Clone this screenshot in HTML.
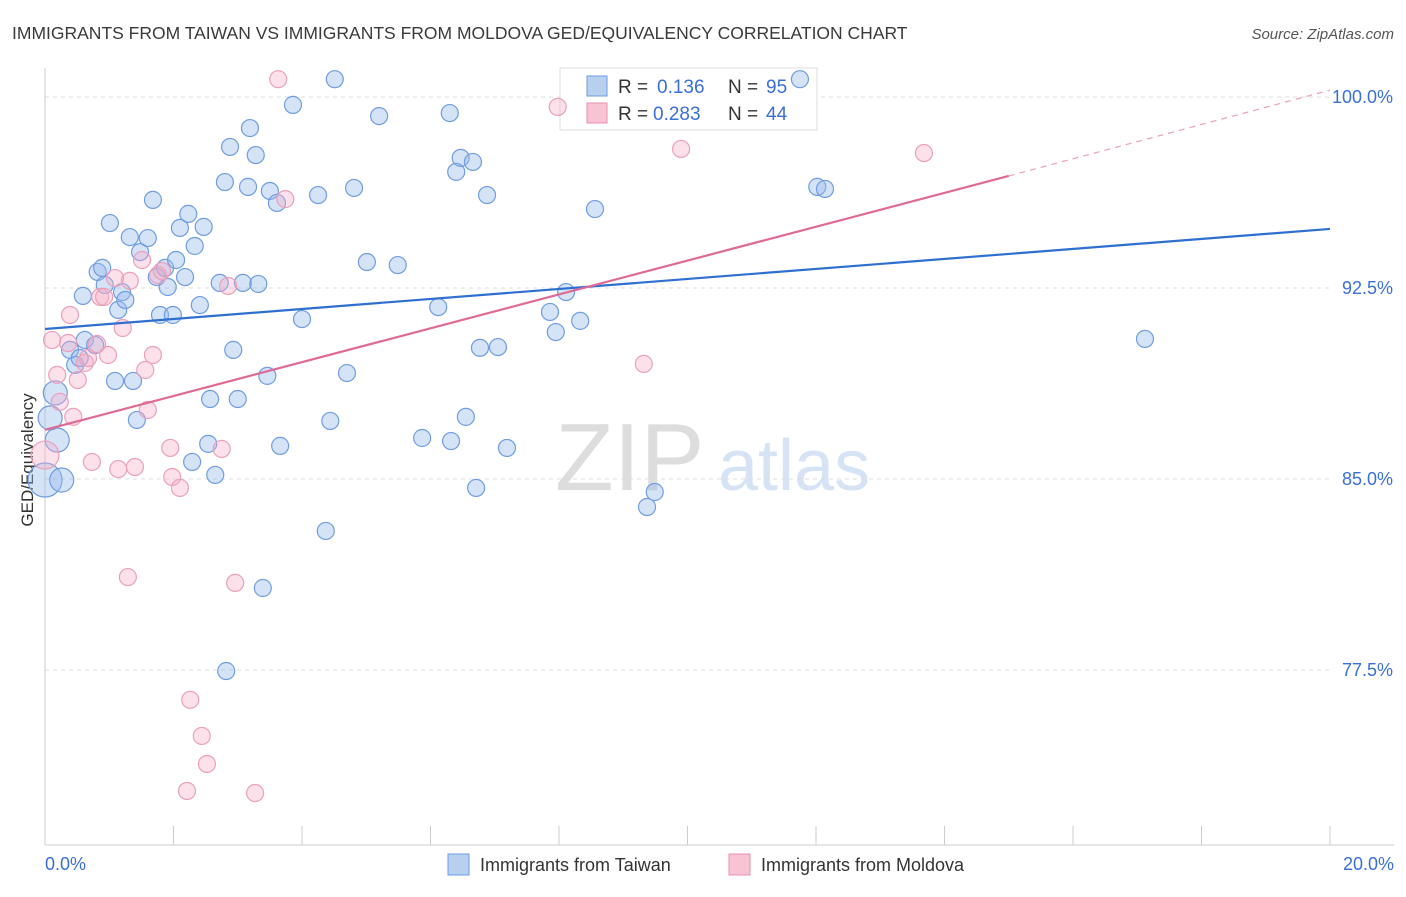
<!DOCTYPE html>
<html><head><meta charset="utf-8"><style>
body{margin:0;background:#fff;font-family:"Liberation Sans",sans-serif;}
svg text{font-family:"Liberation Sans",sans-serif;}
</style></head><body>
<svg id="c" width="1406" height="892">
<text x="12" y="39" font-size="17.5" fill="#3a3a3a">IMMIGRANTS FROM TAIWAN VS IMMIGRANTS FROM MOLDOVA GED/EQUIVALENCY CORRELATION CHART</text>
<text x="1394" y="39" font-size="15" fill="#555" font-style="italic" text-anchor="end">Source: ZipAtlas.com</text>
<text x="555" y="490" font-size="96" fill="#ddd" font-family="Liberation Serif">ZIP</text>
<text x="718" y="490" font-size="72" fill="#d5e3f5">atlas</text>
<text x="33" y="460" font-size="17" fill="#333" text-anchor="middle" transform="rotate(-90 33 460)">GED/Equivalency</text>
<g id="grid"></g>
<g>
<rect x="560" y="68" width="257" height="62" fill="#fff" stroke="#ddd"/>
<rect x="587" y="76" width="20" height="20" fill="#b8d0f0" stroke="#6a9be0"/>
<rect x="587" y="103" width="20" height="20" fill="#f8c4d4" stroke="#e890ac"/>
<text x="618" y="93" font-size="19" fill="#333">R =</text><text x="657" y="93" font-size="19" fill="#3a6fd8">0.136</text>
<text x="728" y="93" font-size="19" fill="#333">N =</text><text x="766" y="93" font-size="19" fill="#3a6fd8">95</text>
<text x="618" y="120" font-size="19" fill="#333">R =</text><text x="653" y="120" font-size="19" fill="#3a6fd8">0.283</text>
<text x="728" y="120" font-size="19" fill="#333">N =</text><text x="766" y="120" font-size="19" fill="#3a6fd8">44</text>
</g>
<g id="pts"></g><g id="lines"></g>
<g>
<rect x="448" y="854" width="21" height="21" fill="#b8d0f0" stroke="#6a9be0"/>
<text x="480" y="871" font-size="18" fill="#333">Immigrants from Taiwan</text>
<rect x="729" y="854" width="21" height="21" fill="#f8c4d4" stroke="#e890ac"/>
<text x="761" y="871" font-size="18" fill="#333">Immigrants from Moldova</text>
</g>
</svg>
<script>
const yTicks=[100,92.5,85,77.5];
const yTickLabels=["100.0%","92.5%","85.0%","77.5%"];
const xTickLabels=["0.0%","20.0%"];
const taiwanX=[0,0.26,0.19,0.16,0.08,0.39,0.47,0.54,0.62,0.78,0.59,0.82,0.89,0.93,1.01,1.09,1.14,1.20,1.25,1.32,1.37,1.43,1.48,1.60,1.68,1.74,1.79,1.87,1.91,1.99,2.04,2.10,2.18,2.23,2.33,2.41,2.47,2.29,2.54,2.57,2.65,2.72,2.80,2.88,2.93,3.00,3.08,3.16,3.19,3.28,3.32,3.39,3.46,3.50,3.61,3.66,3.86,4.00,4.25,4.37,4.44,4.51,4.70,4.81,5.01,5.20,5.49,5.87,6.12,6.30,6.32,6.40,6.47,6.55,6.66,6.71,6.77,6.88,7.05,7.19,7.86,7.95,8.11,8.33,8.56,9.37,9.49,11.75,12.02,12.14,17.12,2.82];
const taiwanY=[84.96,84.96,86.53,88.38,87.40,90.07,89.48,89.75,90.46,90.26,92.19,93.13,93.29,92.62,95.05,88.85,91.64,92.34,92.03,94.50,88.85,87.32,93.91,94.46,95.96,92.93,91.44,93.29,92.54,91.44,93.60,94.86,92.93,95.41,94.15,91.83,94.90,85.67,86.38,88.14,85.16,92.70,96.66,98.04,90.07,88.14,92.70,96.47,98.78,97.72,92.66,80.72,89.05,96.31,95.84,86.30,99.69,91.28,96.15,82.96,87.28,100.7,89.16,96.43,93.52,99.25,93.40,86.61,91.75,99.37,86.49,97.06,97.61,87.44,97.45,84.65,90.15,96.15,90.18,86.22,91.56,90.77,92.34,91.21,95.60,83.90,84.49,100.7,96.47,96.39,90.50,77.46];
const moldovaX=[0,0.11,0.19,0.23,0.39,0.36,0.44,0.51,0.62,0.67,0.73,0.81,0.86,0.92,0.98,1.09,1.14,1.21,1.29,1.32,1.40,1.51,1.56,1.60,1.68,1.76,1.82,1.95,1.98,2.10,2.26,2.21,2.44,2.52,2.75,2.85,2.96,3.27,3.63,3.74,7.98,9.90,9.32,13.68];
const moldovaY=[85.94,90.46,89.09,88.03,91.44,90.34,87.44,88.89,89.56,89.75,85.67,90.30,92.15,92.15,89.87,92.89,85.39,90.93,81.15,92.78,85.47,93.60,89.28,87.71,89.87,93.01,93.17,86.22,85.08,84.65,76.33,72.75,74.91,73.81,86.18,92.58,80.92,72.67,100.7,95.99,99.61,97.96,89.52,97.80];
const taiwanTrend=[[0,90.89],[20,94.82]];
const moldovaTrend=[[0,86.93],[15,96.9],[20,100.27]];
const NS="http://www.w3.org/2000/svg";
const X=v=>45+v/20*1285, Y=v=>97+(100-v)/7.5*191;
function mk(t,a,p){const e=document.createElementNS(NS,t);for(const k in a)e.setAttribute(k,a[k]);p.appendChild(e);return e;}
const g=document.getElementById('grid');
yTicks.forEach((t,i)=>{const l=mk('line',{x1:45,x2:1330,y1:Y(t),y2:Y(t),stroke:'#ddd','stroke-dasharray':'4,4'},g);


const tx=mk('text',{x:1393,y:Y(t)+6,'font-size':18,fill:'#3a6fd8','text-anchor':'end'},g);tx.textContent=yTickLabels[i];

});
mk('line',{x1:45,x2:45,y1:68,y2:845,stroke:'#ccc'},g);
mk('line',{x1:45,x2:1394,y1:845,y2:845,stroke:'#ccc'},g);
for(let i=0;i<=10;i++){mk('line',{x1:X(i*2),x2:X(i*2),y1:826,y2:845,stroke:'#ccc'},g);}
xTickLabels.forEach((s,i)=>{const tx=mk('text',{x:i?1394:45,y:870,'font-size':18,fill:'#3a6fd8','text-anchor':i?'end':'start'},g);tx.textContent=s;

});
const p=document.getElementById('pts');
taiwanX.forEach((x,i)=>{const c=mk('circle',{cx:X(x),cy:Y(taiwanY[i]),r:i==0?17:(i<5?12:8.5),fill:'rgba(150,185,235,0.4)',stroke:'#6f9de0','stroke-width':1.2},p);

});
moldovaX.forEach((x,i)=>{const c=mk('circle',{cx:X(x),cy:Y(moldovaY[i]),r:i==0?14:8.5,fill:'rgba(245,170,195,0.35)',stroke:'#eba0ba','stroke-width':1.2},p);

});
const L=document.getElementById('lines');
let l=mk('line',{x1:X(taiwanTrend[0][0]),y1:Y(taiwanTrend[0][1]),x2:X(taiwanTrend[1][0]),y2:Y(taiwanTrend[1][1]),stroke:'#2f6fd0','stroke-width':2.2},L);


l=mk('line',{x1:X(moldovaTrend[0][0]),y1:Y(moldovaTrend[0][1]),x2:X(moldovaTrend[1][0]),y2:Y(moldovaTrend[1][1]),stroke:'#e06a96','stroke-width':2.2},L);


l=mk('line',{x1:X(moldovaTrend[1][0]),y1:Y(moldovaTrend[1][1]),x2:X(moldovaTrend[2][0]),y2:Y(moldovaTrend[2][1]),stroke:'#eaa0bb','stroke-width':1.2,'stroke-dasharray':'6,5'},L);


</script>
</body></html>
